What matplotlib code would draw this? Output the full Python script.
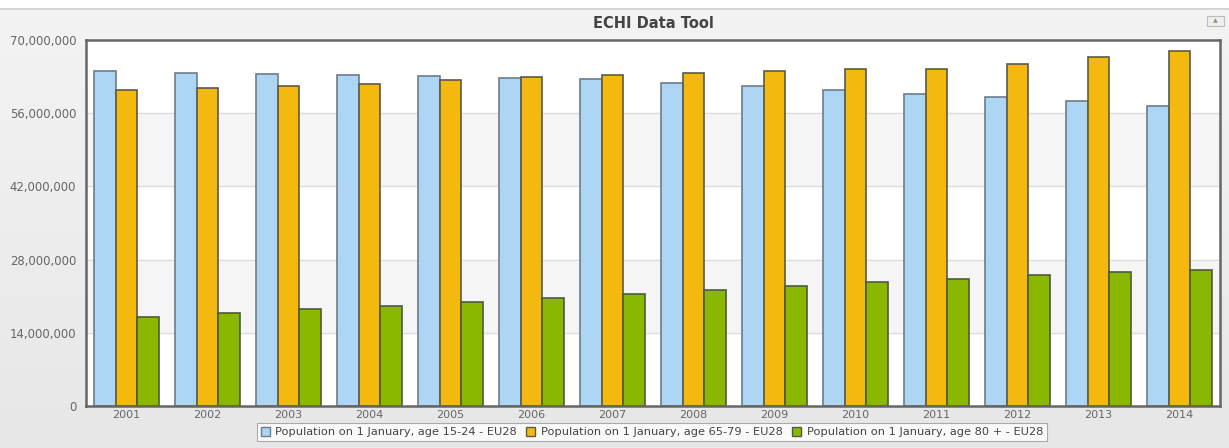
import numpy as np
import matplotlib.pyplot as plt
from matplotlib.patches import Patch, Rectangle
from matplotlib.ticker import FuncFormatter

years = [str(y) for y in range(2001, 2015)]
age_15_24 = [64.1, 63.7, 63.5, 63.3, 63.1, 62.7, 62.5, 61.8, 61.2, 60.4, 59.7, 59.1, 58.3, 57.4]
age_65_79 = [60.4, 60.8, 61.2, 61.6, 62.3, 62.9, 63.3, 63.7, 64.1, 64.4, 64.4, 65.4, 66.7, 67.9]
age_80 = [17.0, 17.8, 18.5, 19.2, 19.9, 20.6, 21.4, 22.2, 22.9, 23.7, 24.3, 25.1, 25.7, 26.0]
series_names = ['Population on 1 January, age 15-24 - EU28',
                'Population on 1 January, age 65-79 - EU28',
                'Population on 1 January, age 80 + - EU28']

colors = ['#add6f5', '#f4b90f', '#8ab800']
edges = ['#6d7d8a', '#5a5a4a', '#4e5a40']

W, H = 1229, 448
fig = plt.figure(figsize=(W / 100, H / 100), dpi=100)

# background gradient
bg = fig.add_axes([0, 0, 1, 1])
grad = np.linspace(0.955, 0.905, 256).reshape(-1, 1)
bg.imshow(np.dstack([grad, grad, grad]), aspect='auto', extent=[0, 1, 0, 1])
bg.add_patch(Rectangle((0, 1 - 9 / H), 1, 9 / H, color='white', zorder=2))
bg.axhline(1 - 9.5 / H, color='#cccccc', lw=1.2, zorder=3)
bg.add_patch(Rectangle((1207 / W, 1 - 26 / H), 17 / W, 10 / H, facecolor='#eeeeee',
                       edgecolor='#bbbbbb', lw=0.8, zorder=3))
bg.text(1215.5 / W, 1 - 21 / H, '\u25b2', fontsize=4.5, color='#8a9a70',
        ha='center', va='center', zorder=4)
bg.set_xlim(0, 1)
bg.set_ylim(0, 1)
bg.axis('off')

fig.text(653 / W, 1 - 24 / H, 'ECHI Data Tool', ha='center', va='center',
         fontsize=10.5, fontweight='bold', color='#444444')

ax = fig.add_axes([86 / W, 42 / H, 1134 / W, 366 / H])
ax.set_facecolor('white')
ax.axhspan(42, 56, color='#f5f5f5', zorder=0)
ax.axhspan(14, 28, color='#f5f5f5', zorder=0)
for yv in [14, 28, 42, 56]:
    ax.axhline(yv, color='#dddddd', lw=1, zorder=0.5)

x = np.arange(len(years))
bw = 0.268
for k, vals in enumerate([age_15_24, age_65_79, age_80]):
    ax.bar(x + (k - 1) * bw, vals, width=bw, color=colors[k], edgecolor=edges[k],
           linewidth=1.2, zorder=2)

ax.set_xlim(-0.5, len(years) - 0.5)
ax.set_ylim(0, 70)
ax.set_yticks([0, 14, 28, 42, 56, 70])
ax.yaxis.set_major_formatter(FuncFormatter(lambda v, p: '0' if v == 0 else f'{int(v * 1e6):,}'))
ax.set_xticks(x)
ax.set_xticklabels(years)
ax.tick_params(axis='both', length=0, colors='#666666')
ax.tick_params(axis='x', pad=3, labelsize=8)
ax.tick_params(axis='y', pad=7, labelsize=8.4)
for s in ax.spines.values():
    s.set_color('#666666')
    s.set_linewidth(1.8)

handles = [Patch(facecolor=colors[k], edgecolor=edges[k]) for k in range(3)]
leg = fig.legend(handles, series_names, ncol=3, loc='center',
                 bbox_to_anchor=(652 / W, 1 - 432 / H), fontsize=8.2,
                 frameon=True, fancybox=False, edgecolor='#999999',
                 handlelength=0.8, handleheight=0.9, handletextpad=0.5,
                 columnspacing=0.8, borderpad=0.3)
leg.get_frame().set_linewidth(0.8)
for t in leg.get_texts():
    t.set_color('#444444')

fig.savefig('out.png', dpi=100)
